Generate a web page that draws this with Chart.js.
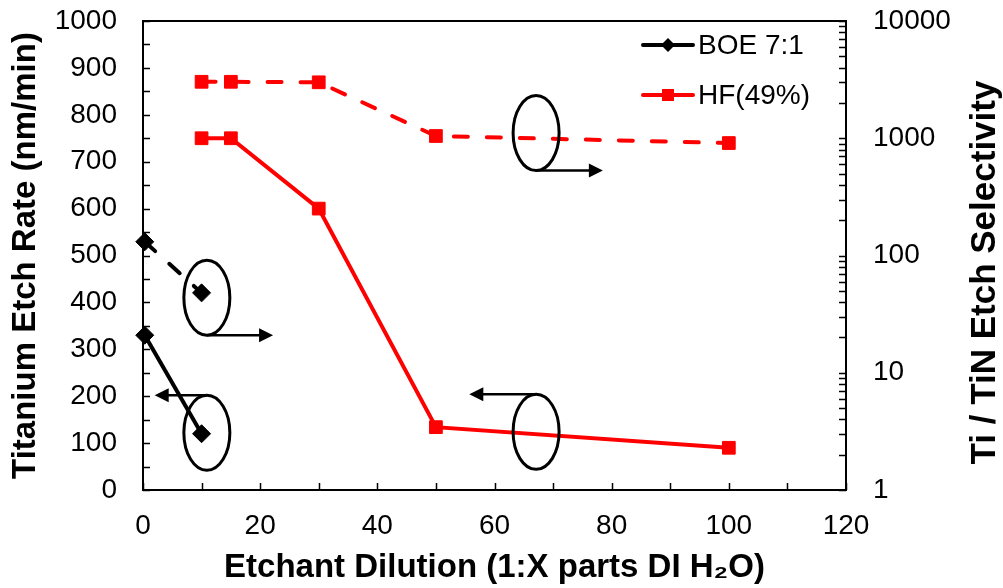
<!DOCTYPE html>
<html lang="en">
<head>
  <meta charset="UTF-8">
  <title>Titanium Etch Rate</title>
  <script src="https://cdn.jsdelivr.net/npm/chart.js"></script>
  <style>
    html, body { margin: 0; padding: 0; background: #fff; }
    #wrap { width: 1003px; height: 588px; }
  </style>
</head>
<body>
  <div id="wrap"><canvas id="etchChart"></canvas></div>

  <script>
    // BOE 7:1
    const boeDilution = [0.3, 10];
    const boeRate = [330, 120];          // nm/min (left axis)
    const boeSelectivity = [131, 48];    // Ti/TiN (right axis, log)

    // HF (49%)
    const hfDilution = [10, 15, 30, 50, 100];
    const hfRate = [750, 750, 600, 134, 90];
    const hfSelectivity = [3030, 3030, 3000, 1045, 910];

    const dilutionTicks = [0, 20, 40, 60, 80, 100, 120];
    const rateTicks = [0, 100, 200, 300, 400, 500, 600, 700, 800, 900, 1000];
    const selectivityTicks = [1, 10, 100, 1000, 10000];

    // ovals + arrows that point each curve to its axis
    const ovalDilution = [10.9, 10.9, 67.1, 67.1];
    const ovalRate = [410, 122, 761, 124];
    const arrowTipDilution = [22.2, 2.0, 78.5, 55.7];
    const arrowFrom = ['bottom', 'top', 'bottom', 'top'];

    const FONT = '"Liberation Sans", Arial, sans-serif';
    const rightTitle = 'Ti / TiN Etch Selectivity';

    const pairs = (xs, ys) => xs.map((x, i) => ({ x, y: ys[i] }));

    // fixed box sizes so the plot area lands where the original one is
    const fixWidth = w => s => { s.width = w; s.paddingTop = 0; s.paddingBottom = 0; };

    const extrasPlugin = {
      id: 'extras',
      afterDraw(chart) {
        const ctx = chart.ctx;
        const a = chart.chartArea;
        const xs = chart.scales.x;
        const yl = chart.scales.rate;
        const yr = chart.scales.sel;
        ctx.save();

        // frame
        ctx.strokeStyle = '#000';
        ctx.lineWidth = 2;
        ctx.strokeRect(a.left, a.top, a.right - a.left, a.bottom - a.top);

        // inward tick marks
        ctx.lineWidth = 1.5;
        ctx.beginPath();
        for (let v = 0; v <= 1000; v += 50) {
          const y = Math.round(yl.getPixelForValue(v)) + 0.5;
          ctx.moveTo(a.left, y); ctx.lineTo(a.left + 7, y);
        }
        for (let v = 0; v <= 120; v += 10) {
          const x = Math.round(xs.getPixelForValue(v)) + 0.5;
          ctx.moveTo(x, a.bottom); ctx.lineTo(x, a.bottom - 7);
        }
        for (let d = 1; d < 10000; d *= 10) {
          for (let m = 1; m <= 10; m++) {
            const y = Math.round(yr.getPixelForValue(d * m)) + 0.5;
            ctx.moveTo(a.right, y); ctx.lineTo(a.right - 7, y);
          }
        }
        ctx.stroke();

        // ovals and arrows
        const rx = 23, ry = 37.5;
        ovalDilution.forEach((dx, i) => {
          const cx = xs.getPixelForValue(dx);
          const cy = yl.getPixelForValue(ovalRate[i]);
          ctx.lineWidth = 3;
          ctx.beginPath();
          ctx.ellipse(cx, cy, rx, ry, 0, 0, Math.PI * 2);
          ctx.stroke();

          const ay = arrowFrom[i] === 'bottom' ? cy + ry : cy - ry;
          const tx = xs.getPixelForValue(arrowTipDilution[i]);
          const dir = tx > cx ? 1 : -1;
          ctx.lineWidth = 2.5;
          ctx.beginPath();
          ctx.moveTo(cx, ay);
          ctx.lineTo(tx - dir * 12, ay);
          ctx.stroke();
          ctx.beginPath();
          ctx.moveTo(tx, ay);
          ctx.lineTo(tx - dir * 14, ay - 7);
          ctx.lineTo(tx - dir * 14, ay + 7);
          ctx.closePath();
          ctx.fillStyle = '#000';
          ctx.fill();
        });

        // legend (line with marker in the middle)
        const legendX = 643, legendY = 45, rowH = 50;
        chart.data.datasets.filter(ds => !ds.hideInLegend).forEach((ds, i) => {
          const y = legendY + i * rowH;
          ctx.strokeStyle = ds.borderColor;
          ctx.lineWidth = 4;
          ctx.lineCap = 'round';
          ctx.beginPath();
          ctx.moveTo(legendX, y); ctx.lineTo(legendX + 50, y);
          ctx.stroke();
          ctx.fillStyle = ds.borderColor;
          ctx.beginPath();
          if (ds.pointStyle === 'rectRot') {
            const r = 7;
            ctx.moveTo(legendX + 25 - r, y); ctx.lineTo(legendX + 25, y - r);
            ctx.lineTo(legendX + 25 + r, y); ctx.lineTo(legendX + 25, y + r);
          } else {
            ctx.rect(legendX + 25 - 6, y - 6, 12, 12);
          }
          ctx.closePath();
          ctx.fill();
          ctx.fillStyle = '#000';
          ctx.font = '28px ' + FONT;
          ctx.textBaseline = 'middle';
          ctx.textAlign = 'left';
          ctx.fillText(ds.label, legendX + 55, y + 1);
        });

        // right axis title, reading bottom to top
        ctx.font = 'bold 35px ' + FONT;
        ctx.fillStyle = '#000';
        ctx.textAlign = 'center';
        ctx.textBaseline = 'middle';
        ctx.translate(985, (a.top + a.bottom) / 2 + 17);
        ctx.rotate(-Math.PI / 2);
        ctx.fillText(rightTitle, 0, 0);
        ctx.restore();
      }
    };

    Chart.defaults.font.family = FONT;
    Chart.defaults.color = '#000';

    new Chart(document.getElementById('etchChart').getContext('2d'), {
      type: 'line',
      data: {
        datasets: [
          {
            label: 'BOE 7:1',
            data: pairs(boeDilution, boeRate),
            yAxisID: 'rate',
            borderColor: '#000', backgroundColor: '#000',
            borderWidth: 4, pointStyle: 'rectRot', pointRadius: 9, pointBorderWidth: 1,
            clip: false
          },
          {
            label: 'HF(49%)',
            data: pairs(hfDilution, hfRate),
            yAxisID: 'rate',
            borderColor: '#ff0000', backgroundColor: '#ff0000',
            borderWidth: 4, pointStyle: 'rect', pointRadius: 9, pointBorderWidth: 1,
            clip: false
          },
          {
            label: 'BOE 7:1 selectivity',
            hideInLegend: true,
            data: pairs(boeDilution, boeSelectivity),
            yAxisID: 'sel',
            borderColor: '#000', backgroundColor: '#000',
            borderWidth: 4, borderDash: [14, 19], borderCapStyle: 'round',
            pointStyle: 'rectRot', pointRadius: 9, pointBorderWidth: 1,
            clip: false
          },
          {
            label: 'HF(49%) selectivity',
            hideInLegend: true,
            data: pairs(hfDilution, hfSelectivity),
            yAxisID: 'sel',
            borderColor: '#ff0000', backgroundColor: '#ff0000',
            borderWidth: 4, borderDash: [14, 19], borderCapStyle: 'round',
            pointStyle: 'rect', pointRadius: 9, pointBorderWidth: 1,
            clip: false
          }
        ]
      },
      options: {
        responsive: true,
        maintainAspectRatio: false,
        animation: false,
        layout: { padding: { top: 21, left: 0, right: 0, bottom: 0 } },
        plugins: { legend: { display: false }, tooltip: { enabled: false } },
        elements: { line: { tension: 0 } },
        scales: {
          x: {
            type: 'linear', min: 0, max: 120,
            afterBuildTicks: s => { s.ticks = dilutionTicks.map(v => ({ value: v })); },
            afterFit: s => { s.height = 98; s.paddingLeft = 0; s.paddingRight = 0; },
            grid: { display: false, drawTicks: false },
            border: { display: false },
            ticks: { font: { size: 28 }, padding: 19, maxRotation: 0 },
            title: {
              display: true,
              text: 'Etchant Dilution (1:X parts DI H\u2082O)',
              font: { size: 33, weight: 'bold' },
              padding: { top: 0, bottom: 0 }
            }
          },
          rate: {
            type: 'linear', position: 'left', min: 0, max: 1000,
            afterBuildTicks: s => { s.ticks = rateTicks.map(v => ({ value: v })); },
            afterFit: fixWidth(143),
            grid: { display: false, drawTicks: false },
            border: { display: false },
            ticks: { font: { size: 28 }, padding: 26, callback: v => String(v) },
            title: {
              display: true,
              text: 'Titanium Etch Rate (nm/min)',
              font: { size: 33, weight: 'bold' },
              padding: { top: 6, bottom: 0 }
            }
          },
          sel: {
            type: 'logarithmic', position: 'right', min: 1, max: 10000,
            afterBuildTicks: s => { s.ticks = selectivityTicks.map(v => ({ value: v })); },
            afterFit: fixWidth(157),
            grid: { display: false, drawTicks: false },
            border: { display: false },
            ticks: { font: { size: 28 }, padding: 27, callback: v => String(v) }
          }
        }
      },
      plugins: [extrasPlugin]
    });
  </script>
</body>
</html>
